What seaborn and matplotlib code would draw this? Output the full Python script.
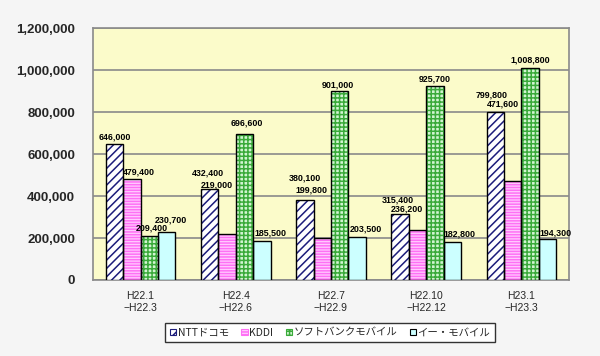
import numpy as np
import pandas as pd
import matplotlib
matplotlib.use("Agg")
import matplotlib.pyplot as plt
import seaborn as sns
from matplotlib.patches import Rectangle, Patch
from matplotlib.ticker import FuncFormatter

# ---- data ----
periods = ["H22.1\n\u2212H22.3", "H22.4\n\u2212H22.6", "H22.7\n\u2212H22.9",
           "H22.10\n\u2212H22.12", "H23.1\n\u2212H23.3"]
carriers = ["NTTドコモ", "KDDI", "ソフトバンクモバイル", "イー・モバイル"]
docomo = [646000, 432400, 380100, 315400, 799800]
kddi = [479400, 219000, 199800, 236200, 471600]
softbank = [209400, 696600, 901000, 925700, 1008800]
emobile = [230700, 185500, 203500, 182800, 194300]
yticks = [0, 200000, 400000, 600000, 800000, 1000000, 1200000]

series = [docomo, kddi, softbank, emobile]
df = pd.DataFrame({
    "period": periods * 4,
    "carrier": sum([[c] * len(periods) for c in carriers], []),
    "value": sum(series, []),
})

# ---- style ----
face = ["#ffffff", "#ffccff", "#d2f5d2", "#ccffff"]
hatches = ["////", "------", "++++", ""]
hatchcol = ["#1c1c7a", "#ff70f5", "#3aaa3a", "#000000"]

# label offsets in pixels (dx, dy) relative to anchor bar top-centre
lbl_dx = [[0, -2, 0, -2, -4], [7, 7.5, 7, 7, 7.5], [3, 2.5, -2, -0.5, 0.5], [4.5, 8.5, 9, 7.5, 8]]
lbl_dy = [[7, 16, 22, 14, 17], [7, 4, 10, 5, 8], [8, 10.5, 6, 7, 8], [12, 8, 8, 8, 6.5]]
# KDDI labels in later periods sit above the docomo bar
lbl_anchor = [[0] * 5, [1, 0, 0, 0, 0], [2] * 5, [3] * 5]

sns.set_style("white")
plt.rcParams["font.family"] = ["Liberation Sans", "Noto Sans CJK JP", "DejaVu Sans"]
plt.rcParams["hatch.linewidth"] = 1.1

fig = plt.figure(figsize=(6.0, 3.56), dpi=100)
fig.patch.set_facecolor("#f5f5f5")
ax = fig.add_axes([93 / 600, 1 - 280 / 356, 476 / 600, 252 / 356])
ax.set_facecolor("#fbfbca")

sns.barplot(data=df, x="period", y="value", hue="carrier", order=periods,
            hue_order=carriers, palette=dict(zip(carriers, face)), width=0.73,
            gap=0, saturation=1, errorbar=None, legend=False, ax=ax,
            edgecolor="black", linewidth=1, zorder=3)

bar_geo = []
for i, cont in enumerate(ax.containers):
    geo = []
    for bar in cont:
        x, y = bar.get_x(), bar.get_y()
        w, h = bar.get_width(), bar.get_height()
        geo.append((x + w / 2, h))
        if hatches[i]:
            bar.set_hatch(hatches[i])
            bar.set_edgecolor(hatchcol[i])
            bar.set_linewidth(0)
            ax.add_patch(Rectangle((x, y), w, h, fill=False, edgecolor="black",
                                   linewidth=1, zorder=4))
    bar_geo.append(geo)

for i in range(4):
    for j in range(len(periods)):
        a = lbl_anchor[i][j]
        cx, top = bar_geo[a][j]
        ax.annotate(f"{series[i][j]:,}", xy=(cx, top),
                    xytext=(lbl_dx[i][j] * 0.72, lbl_dy[i][j] * 0.72),
                    textcoords="offset points", ha="center", va="center",
                    fontsize=6.4, fontweight="bold", color="black", zorder=6)

ax.set_ylim(0, 1200000)
ax.set_xlim(-0.5, len(periods) - 0.5)
ax.set_yticks(yticks)
ax.yaxis.set_major_formatter(FuncFormatter(lambda v, p: f"{int(v):,}"))
for t in ax.get_yticklabels():
    t.set_fontweight("bold")
    t.set_fontsize(9.5)
ax.tick_params(axis="y", length=0, pad=13, labelsize=9.5)
ax.tick_params(axis="x", which="major", length=0, pad=8, labelsize=7.5)
ax.set_xticks([0.5, 1.5, 2.5, 3.5], minor=True)
ax.tick_params(axis="x", which="minor", direction="in", length=3, color="#808080", width=1)
for t in ax.get_xticklabels():
    t.set_linespacing(1.25)
ax.set_xlabel("")
ax.set_ylabel("")
ax.yaxis.grid(True, color="#8a8a8a", linewidth=1.2, zorder=0)
ax.set_axisbelow(True)
for s in ax.spines.values():
    s.set_visible(True)
    s.set_color("#8a8a8a")
    s.set_linewidth(1.2)

handles = [Patch(facecolor=face[i], hatch=hatches[i] or None,
                 edgecolor=hatchcol[i], linewidth=0.8) for i in range(4)]
leg = fig.legend(handles, carriers, loc="center", bbox_to_anchor=(0.55, 1 - 332.5 / 356),
                 ncol=4, frameon=True, fancybox=False, framealpha=1,
                 prop={"family": ["Noto Sans CJK JP", "DejaVu Sans"], "size": 7.5},
                 handlelength=0.6, handleheight=0.6, handletextpad=0.15,
                 columnspacing=1.2, borderpad=0.45, borderaxespad=0)
leg.get_frame().set_edgecolor("#333333")
leg.get_frame().set_linewidth(1)
leg.get_frame().set_facecolor("white")

fig.savefig("out.png", dpi=100, facecolor=fig.get_facecolor())
